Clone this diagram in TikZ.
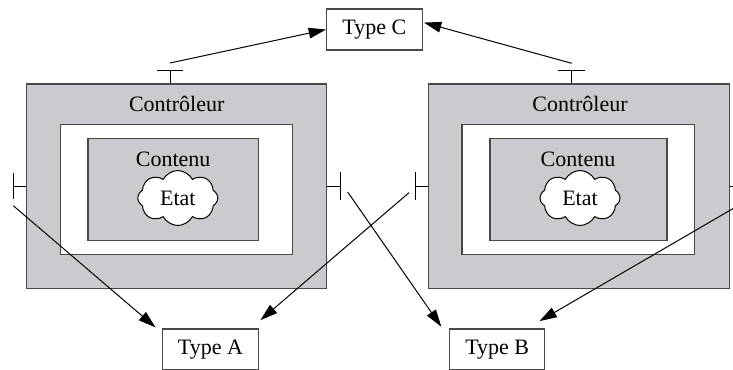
\documentclass[tikz,border=0pt]{standalone}
\usepackage{fontspec}
\setmainfont{Liberation Serif}
\usetikzlibrary{arrows.meta,shapes.symbols,fit}
\definecolor{panel}{RGB}{201,203,207}
\definecolor{edge}{RGB}{72,72,72}
\begin{document}
\begin{tikzpicture}[x=0.75pt,y=-0.75pt,
  frame/.style={draw=edge,line width=0.9pt,inner sep=0pt},
  shaded/.style={frame,fill=panel},
  plain/.style={frame,fill=white},
  lbl/.style={font=\fontsize{16.5}{19}\selectfont,inner sep=0pt,anchor=base},
  typebox/.style={draw=edge,line width=0.8pt,fill=white,inner sep=0pt,
    minimum width=95.5*0.75pt,minimum height=41*0.75pt,
    font=\fontsize{16.5}{19}\selectfont},
  state/.style={cloud,cloud puffs=8,cloud puff arc=125,aspect=1.5,draw,
    fill=white,line width=0.75pt,inner sep=0pt,
    minimum width=80*0.75pt,minimum height=55*0.75pt,
    font=\fontsize{16.5}{19}\selectfont},
  port/.style={line width=0.75pt},
  link/.style={line width=0.75pt,-{Triangle[length=13pt,width=8pt]}}
]
\clip (0,0) rectangle (733,369);

% left component: controller, its hole and the content with its state
\node[shaded,fit={(26.7,84) (326.7,288.3)}] (ctrlL) {};
\node[plain,fit={(60.7,124.3) (292.7,254.3)}] (holeL) {};
\node[shaded,fit={(88,138.3) (258.3,240.3)}] (contL) {};
\node[lbl] (ctrlLtxt) at (176.7,111.7) {Contrôleur};
\node[lbl] (contLtxt) at (173.2,166.7) {Contenu};
\node[state] (etatL) at (177.8,198) {Etat};

% right component
\node[shaded,fit={(428.3,84) (729.3,288.3)}] (ctrlR) {};
\node[plain,fit={(462,124.3) (694.5,254.3)}] (holeR) {};
\node[shaded,fit={(490,138.3) (667,240.3)}] (contR) {};
\node[lbl] (ctrlRtxt) at (580,111.7) {Contrôleur};
\node[lbl] (contRtxt) at (578,166.7) {Contenu};
\node[state] (etatR) at (580,198) {Etat};

% interface types
\node[typebox] (typeC) at (374.3,29.5) {Type C};
\node[typebox] (typeA) at (210.5,349.5) {Type A};
\node[typebox] (typeB) at (497.2,349.5) {Type B};

% ports (T-shaped interface stubs)
\coordinate (pLw) at (13.3,186);
\coordinate (pLe) at (340,186);
\coordinate (pRw) at (415,186);
\coordinate (pRe) at (742.6,186);
\coordinate (pLn) at (170,70.7);
\coordinate (pRn) at (571.7,70.7);

\draw[port] (ctrlL.west |- pLw) -- (pLw) ++(0,-13) -- ++(0,26);
\draw[port] (ctrlL.east |- pLe) -- (pLe) ++(0,-14) -- ++(0,27.5);
\draw[port] (ctrlR.west |- pRw) -- (pRw) ++(0,-14) -- ++(0,27.5);
\draw[port] (ctrlR.east |- pRe) -- (pRe) ++(0,-13) -- ++(0,26);
\draw[port] (ctrlL.north -| pLn) -- (pLn) ++(-13,0) -- ++(26,0);
\draw[port] (ctrlR.north -| pRn) -- (pRn) ++(-13.5,0) -- ++(27,0);

% free ends of the connectors next to the ports
\coordinate (sLw) at (13.3,205.7);
\coordinate (sLe) at (347.7,192);
\coordinate (sRw) at (409,192.7);
\coordinate (sRe) at (742.6,203);
\coordinate (sLn) at (170,63);
\coordinate (sRn) at (571.7,63.3);

% connectors
\draw[link] (sLn) -- (typeC.west);
\draw[link] (sRn) -- ([xshift=1pt,yshift=5.2pt]typeC.east);
\draw[link] (sLw) -- ([xshift=-5pt,yshift=0.8pt]typeA.north west);
\draw[link] (sRw) -- ([xshift=1.2pt,yshift=6.2pt]typeA.north east);
\draw[link] (sLe) -- ([xshift=-5.7pt,yshift=1.3pt]typeB.north west);
\draw[link] (sRe) -- ([xshift=-4.5pt,yshift=5.5pt]typeB.north east);
\end{tikzpicture}
\end{document}
